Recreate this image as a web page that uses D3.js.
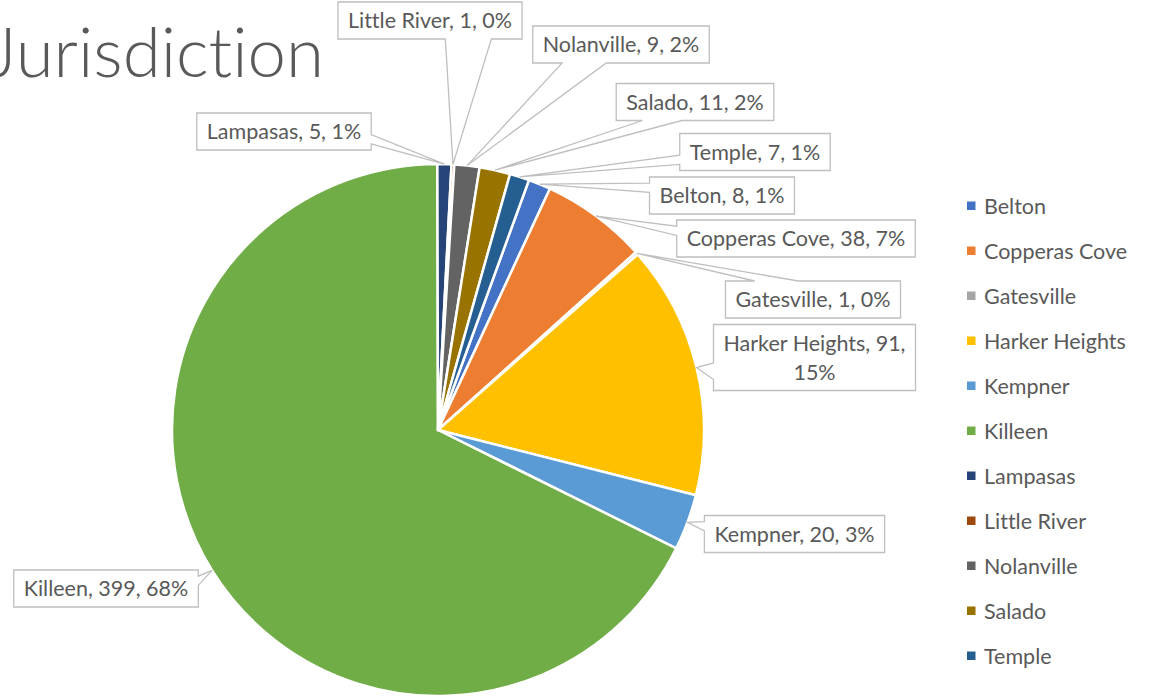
<!DOCTYPE html>
<html>
<head>
<meta charset="utf-8">
<script src="https://cdn.jsdelivr.net/npm/d3@7"></script>
<style>
  html, body { margin: 0; padding: 0; background: #fff; }
  svg { display: block; font-family: Lato, "Open Sans", sans-serif; font-variant-ligatures: none; }
</style>
</head>
<body>
<div id="chart"></div>
<script>
'use strict';

// ------------------------------------
// DATA
// ------------------------------------
const categories = ["Belton", "Copperas Cove", "Gatesville", "Harker Heights", "Kempner",
  "Killeen", "Lampasas", "Little River", "Nolanville", "Salado", "Temple"];
const values = [8, 38, 1, 91, 20, 399, 5, 1, 9, 11, 7];
const percents = ["1%", "7%", "0%", "15%", "3%", "68%", "1%", "0%", "2%", "2%", "1%"];

// ------------------------------------
// SETUP
// ------------------------------------
const width = 1153;
const height = 697;
const cx = 438, cy = 430, radius = 266;
const firstSliceAngle = 20; // degrees, like Excel's "angle of first slice"

const color = d3.scaleOrdinal()
  .domain(categories)
  .range(["#4472C4", "#ED7D31", "#A5A5A5", "#FFC000", "#5B9BD5", "#70AD47",
    "#264478", "#9E480E", "#636363", "#997300", "#255E91"]);

// label box centres (layout only), same order as categories
const labelPos = [
  [722, 195.5], [796, 238.5], [813, 299.5], [814.5, 357.5], [794.5, 534],
  [106, 588.5], [284, 131.5], [430, 20.5], [621, 44.5], [695, 102], [755, 152]
];

const rows = categories.map((c, i) => ({ name: c, value: values[i], pct: percents[i], pos: labelPos[i] }));

const svg = d3.select("#chart").append("svg")
  .attr("width", width)
  .attr("height", height);

// ------------------------------------
// TITLE (cropped at the left edge, as in the source chart)
// ------------------------------------
svg.append("text")
  .attr("x", 324)
  .attr("y", 77)
  .attr("text-anchor", "end")
  .attr("fill", "#595959")
  .attr("font-size", 69)
  .attr("font-weight", 300)
  .text("Jurisdiction");

// ------------------------------------
// PIE
// ------------------------------------
const a0 = firstSliceAngle * Math.PI / 180;
const pie = d3.pie().sort(null).value(d => d.value)
  .startAngle(a0).endAngle(a0 + 2 * Math.PI);
const arcs = pie(rows);

const arc = d3.arc().innerRadius(0).outerRadius(radius);

const gPie = svg.append("g").attr("transform", `translate(${cx},${cy})`);
gPie.selectAll("path")
  .data(arcs)
  .join("path")
  .attr("d", arc)
  .attr("fill", d => color(d.data.name))
  .attr("stroke", "#fff")
  .attr("stroke-width", 2.5)
  .attr("stroke-linejoin", "round");

// ------------------------------------
// DATA LABELS with wedge callouts
// ------------------------------------
const fontSize = 21.5;
const gLabels = svg.append("g");

// rectangle + wedge toward the tip (same rule as Office's wedgeRectCallout)
function calloutPath(x, y, w, h, tx, ty) {
  const hc = x + w / 2, vc = y + h / 2;
  const dx = tx - hc, dy = ty - vc;
  const dz = Math.abs(dy) - Math.abs(dx * h / w);
  const x1 = x + w * (dx > 0 ? 7 : 2) / 12, x2 = x + w * (dx > 0 ? 10 : 5) / 12;
  const y1 = y + h * (dy > 0 ? 7 : 2) / 12, y2 = y + h * (dy > 0 ? 10 : 5) / 12;
  const r = x + w, b = y + h;
  const p = [[x, y]];
  if (dz > 0 && dy < 0) p.push([x1, y], [tx, ty], [x2, y]);
  p.push([r, y]);
  if (dz <= 0 && dx > 0) p.push([r, y1], [tx, ty], [r, y2]);
  p.push([r, b]);
  if (dz > 0 && dy > 0) p.push([x2, b], [tx, ty], [x1, b]);
  p.push([x, b]);
  if (dz <= 0 && dx < 0) p.push([x, y2], [tx, ty], [x, y1]);
  return "M" + p.map(q => q.join(",")).join("L") + "Z";
}

arcs.forEach(d => {
  const lines = d.data.name === "Harker Heights"
    ? [`${d.data.name}, ${d.data.value},`, d.data.pct]
    : [`${d.data.name}, ${d.data.value}, ${d.data.pct}`];
  const [lx, ly] = d.data.pos;
  const lineH = 29;

  const g = gLabels.append("g");
  const path = g.append("path")
    .attr("fill", "#fff")
    .attr("stroke", "#BFBFBF")
    .attr("stroke-width", 1.3);

  const text = g.append("text")
    .attr("text-anchor", "middle")
    .attr("fill", "#595959")
    .attr("font-size", fontSize);
  lines.forEach((t, i) => {
    text.append("tspan")
      .attr("x", lx)
      .attr("y", ly + 7.5 + (i - (lines.length - 1) / 2) * lineH)
      .text(t);
  });

  const tw = d3.max(text.selectAll("tspan").nodes(), n => n.getComputedTextLength());
  const w = tw + 20;
  const h = 37 + (lines.length - 1) * lineH;
  const mid = (d.startAngle + d.endAngle) / 2;
  const tx = cx + radius * Math.sin(mid);
  const ty = cy - radius * Math.cos(mid);
  path.attr("d", calloutPath(lx - w / 2, ly - h / 2, w, h, tx, ty));
});

// ------------------------------------
// LEGEND
// ------------------------------------
const legend = svg.append("g").attr("transform", "translate(967, 206)");
const item = legend.selectAll("g")
  .data(categories)
  .join("g")
  .attr("transform", (d, i) => `translate(0, ${i * 45})`);

item.append("rect")
  .attr("x", 0).attr("y", -4.5)
  .attr("width", 8.5).attr("height", 8.5)
  .attr("fill", d => color(d));

item.append("text")
  .attr("x", 17)
  .attr("y", 7.5)
  .attr("fill", "#595959")
  .attr("font-size", fontSize)
  .text(d => d);
</script>
</body>
</html>
